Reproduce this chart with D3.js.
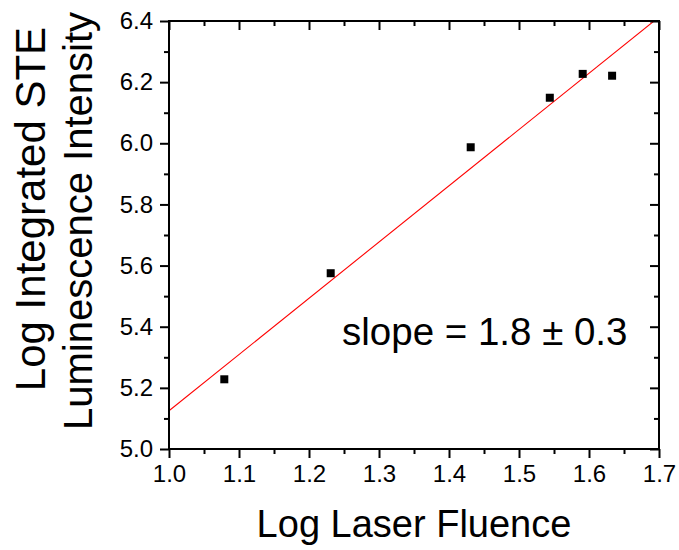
<!DOCTYPE html>
<html>
<head>
<meta charset="utf-8">
<script src="https://cdn.jsdelivr.net/npm/d3@7"></script>
<style>
  html, body { margin: 0; padding: 0; background: #fff; }
  text { font-family: "Liberation Sans", Arial, sans-serif; fill: #000; }
</style>
</head>
<body>
<svg id="chart" width="679" height="550"></svg>
<script>
// Data
const fluence = [1.079, 1.231, 1.431, 1.544, 1.591, 1.633];
const intensity = [5.228, 5.575, 5.987, 6.149, 6.227, 6.221];
const fitX = [1.0, 1.7];
const fitY = [5.125, 6.413];
const xTicks = [1.0, 1.1, 1.2, 1.3, 1.4, 1.5, 1.6, 1.7];
const yTicks = [5.0, 5.2, 5.4, 5.6, 5.8, 6.0, 6.2, 6.4];
const xMinor = [1.05, 1.15, 1.25, 1.35, 1.45, 1.55, 1.65];
const yMinor = [5.1, 5.3, 5.5, 5.7, 5.9, 6.1, 6.3];
const xLabel = "Log Laser Fluence";
const yLabel = ["Log Integrated STE", "Luminescence Intensity"];
const annotation = "slope = 1.8 \u00b1 0.3";

const svg = d3.select("#chart");
const L = 169, R = 659, T = 21, B = 449;
const x = d3.scaleLinear().domain([1.0, 1.7]).range([L, R]);
const y = d3.scaleLinear().domain([5.0, 6.4]).range([B, T]);

svg.append("defs").append("clipPath").attr("id", "clip")
  .append("rect").attr("x", L).attr("y", T).attr("width", R - L).attr("height", B - T);

// fit line
svg.append("line")
  .attr("clip-path", "url(#clip)")
  .attr("x1", x(fitX[0])).attr("y1", y(fitY[0]))
  .attr("x2", x(fitX[1])).attr("y2", y(fitY[1]))
  .attr("stroke", "#ff0000").attr("stroke-width", 1.1);

// markers
const ms = 8;
svg.selectAll("rect.pt").data(fluence).enter().append("rect")
  .attr("class", "pt")
  .attr("x", (d) => x(d) - ms / 2)
  .attr("y", (d, i) => y(intensity[i]) - ms / 2)
  .attr("width", ms).attr("height", ms).attr("fill", "#000");

function styleAxis(g) {
  g.select(".domain").remove();
  g.selectAll(".tick line").attr("stroke", "#000").attr("stroke-width", 2);
  g.selectAll(".tick text").style("font-size", "24px").style("font-family", "'Liberation Sans', Arial, sans-serif");
}

// bottom
const gB = svg.append("g").attr("transform", `translate(0,${B})`)
  .call(d3.axisBottom(x).tickValues(xTicks).tickFormat(d3.format(".1f")).tickSize(9).tickPadding(7));
styleAxis(gB);
svg.append("g").attr("transform", `translate(0,${B})`)
  .call(d3.axisBottom(x).tickValues(xMinor).tickFormat("").tickSize(5)).call(styleAxis);
// left
const gL = svg.append("g").attr("transform", `translate(${L},0)`)
  .call(d3.axisLeft(y).tickValues(yTicks).tickFormat(d3.format(".1f")).tickSize(9).tickPadding(7));
styleAxis(gL);
svg.append("g").attr("transform", `translate(${L},0)`)
  .call(d3.axisLeft(y).tickValues(yMinor).tickFormat("").tickSize(5)).call(styleAxis);
// top (inward)
svg.append("g").attr("transform", `translate(0,${T})`)
  .call(d3.axisBottom(x).tickValues(xTicks).tickFormat("").tickSize(9)).call(styleAxis);
svg.append("g").attr("transform", `translate(0,${T})`)
  .call(d3.axisBottom(x).tickValues(xMinor).tickFormat("").tickSize(5)).call(styleAxis);
// right (inward)
svg.append("g").attr("transform", `translate(${R},0)`)
  .call(d3.axisLeft(y).tickValues(yTicks).tickFormat("").tickSize(9)).call(styleAxis);
svg.append("g").attr("transform", `translate(${R},0)`)
  .call(d3.axisLeft(y).tickValues(yMinor).tickFormat("").tickSize(5)).call(styleAxis);

// frame
svg.append("rect").attr("x", L).attr("y", T).attr("width", R - L).attr("height", B - T)
  .attr("fill", "none").attr("stroke", "#000").attr("stroke-width", 2);

// annotation
svg.append("text").attr("x", 342).attr("y", 345)
  .style("font-size", "38.5px").text(annotation);

// x label
svg.append("text").attr("x", 414).attr("y", 537).attr("text-anchor", "middle")
  .style("font-size", "38px").text(xLabel);

// y labels
svg.append("text").attr("transform", "translate(45,209) rotate(-90)").attr("text-anchor", "middle")
  .style("font-size", "42px").text(yLabel[0]);
svg.append("text").attr("transform", "translate(92,221) rotate(-90)").attr("text-anchor", "middle")
  .style("font-size", "40px").text(yLabel[1]);
</script>
</body>
</html>
